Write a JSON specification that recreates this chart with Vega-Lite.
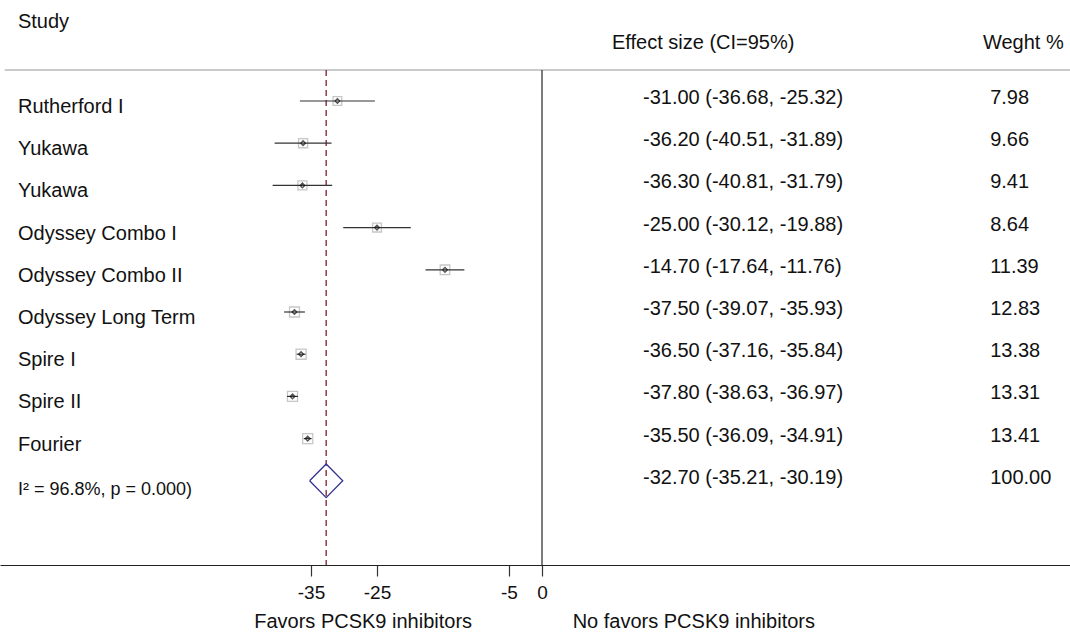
{
  "$schema": "https://vega.github.io/schema/vega-lite/v6.json",
  "width": 1070,
  "height": 565,
  "autosize": "none",
  "padding": {"left": 0, "right": 0, "top": 0, "bottom": 70},
  "background": "white",
  "config": {
    "view": {"stroke": null},
    "font": "Liberation Sans",
    "axis": {"labelFontSize": 19, "labelFont": "Liberation Sans", "labelColor": "#111111"},
    "text": {"font": "Liberation Sans", "color": "#111111"}
  },
  "datasets": {
    "studies": [
      {"study": "Rutherford I", "row": 1, "es": -31.0, "lo": -36.68, "hi": -25.32, "weight": 7.98, "ci": "-31.00 (-36.68, -25.32)", "w": "7.98"},
      {"study": "Yukawa", "row": 2, "es": -36.2, "lo": -40.51, "hi": -31.89, "weight": 9.66, "ci": "-36.20 (-40.51, -31.89)", "w": "9.66"},
      {"study": "Yukawa", "row": 3, "es": -36.3, "lo": -40.81, "hi": -31.79, "weight": 9.41, "ci": "-36.30 (-40.81, -31.79)", "w": "9.41"},
      {"study": "Odyssey Combo I", "row": 4, "es": -25.0, "lo": -30.12, "hi": -19.88, "weight": 8.64, "ci": "-25.00 (-30.12, -19.88)", "w": "8.64"},
      {"study": "Odyssey Combo II", "row": 5, "es": -14.7, "lo": -17.64, "hi": -11.76, "weight": 11.39, "ci": "-14.70 (-17.64, -11.76)", "w": "11.39"},
      {"study": "Odyssey Long Term", "row": 6, "es": -37.5, "lo": -39.07, "hi": -35.93, "weight": 12.83, "ci": "-37.50 (-39.07, -35.93)", "w": "12.83"},
      {"study": "Spire I", "row": 7, "es": -36.5, "lo": -37.16, "hi": -35.84, "weight": 13.38, "ci": "-36.50 (-37.16, -35.84)", "w": "13.38"},
      {"study": "Spire II", "row": 8, "es": -37.8, "lo": -38.63, "hi": -36.97, "weight": 13.31, "ci": "-37.80 (-38.63, -36.97)", "w": "13.31"},
      {"study": "Fourier", "row": 9, "es": -35.5, "lo": -36.09, "hi": -34.91, "weight": 13.41, "ci": "-35.50 (-36.09, -34.91)", "w": "13.41"}
    ],
    "overall": [
      {"study": "I² = 96.8%, p = 0.000)", "row": 10, "es": -32.7, "lo": -35.21, "hi": -30.19, "ci": "-32.70 (-35.21, -30.19)", "w": "100.00"}
    ],
    "diamond": [
      {"k": 0, "x": -35.21, "row": 10},
      {"k": 1, "x": -32.7, "row": 9.6},
      {"k": 2, "x": -30.19, "row": 10},
      {"k": 3, "x": -32.7, "row": 10.4},
      {"k": 4, "x": -35.21, "row": 10}
    ],
    "headers": [
      {"label": "Study", "x": -79.4, "row": -0.87},
      {"label": "Effect size (CI=95%)", "x": 10.6, "row": -0.37},
      {"label": "Weght %", "x": 66.8, "row": -0.37}
    ],
    "sides": [
      {"label": "Favors PCSK9 inhibitors", "x": -27.1, "row": 13.35},
      {"label": "No favors PCSK9 inhibitors", "x": 23.0, "row": 13.35}
    ]
  },
  "layer": [
    {
      "data": {"values": [{"x": -81.4, "x2": 80, "row": 0.265}]},
      "mark": {"type": "rule", "color": "#b8b8b8", "strokeWidth": 1.5},
      "encoding": {
        "x": {"field": "x", "type": "quantitative", "scale": {"domain": [-82.12, 80.0], "nice": false, "zero": false},
          "axis": {"values": [-35, -25, -5, 0], "title": null, "grid": false, "domainColor": "#222222", "domainWidth": 1.2,
            "tickColor": "#333333", "tickSize": 11, "tickWidth": 1.2, "labelFontSize": 19, "labelColor": "#111111",
            "labelPadding": 7, "labelDx": 5, "labelFont": "Liberation Sans",
            "labelExpr": "replace(datum.label, '\u2212', '-')"}},
        "x2": {"field": "x2"},
        "y": {"field": "row", "type": "quantitative", "scale": {"domain": [-1.393, 11.995], "reverse": true, "nice": false, "zero": false}, "axis": null}
      }
    },
    {
      "data": {"values": [{"x": 0, "row": 0.265, "row2": 11.995}]},
      "mark": {"type": "rule", "color": "#444444", "strokeWidth": 1.4},
      "encoding": {
        "x": {"field": "x", "type": "quantitative"},
        "y": {"field": "row", "type": "quantitative"},
        "y2": {"field": "row2"}
      }
    },
    {
      "data": {"values": [{"x": -32.7, "row": 0.265, "row2": 11.995}]},
      "mark": {"type": "rule", "color": "#7f1d2c", "strokeWidth": 1.3, "strokeDash": [6, 4]},
      "encoding": {
        "x": {"field": "x", "type": "quantitative"},
        "y": {"field": "row", "type": "quantitative"},
        "y2": {"field": "row2"}
      }
    },
    {
      "data": {"name": "studies"},
      "mark": {"type": "point", "shape": "square", "filled": false, "color": "#b0b0b0", "strokeWidth": 1.3},
      "encoding": {
        "x": {"field": "es", "type": "quantitative"},
        "y": {"field": "row", "type": "quantitative"},
        "size": {"field": "weight", "type": "quantitative", "scale": {"domain": [7, 14], "range": [70, 105]}, "legend": null}
      }
    },
    {
      "data": {"name": "studies"},
      "mark": {"type": "rule", "color": "#333333", "strokeWidth": 1.2},
      "encoding": {
        "x": {"field": "lo", "type": "quantitative"},
        "x2": {"field": "hi"},
        "y": {"field": "row", "type": "quantitative"}
      }
    },
    {
      "data": {"name": "studies"},
      "mark": {"type": "point", "shape": "diamond", "filled": false, "color": "#111111", "strokeWidth": 1.4, "size": 22},
      "encoding": {
        "x": {"field": "es", "type": "quantitative"},
        "y": {"field": "row", "type": "quantitative"}
      }
    },
    {
      "data": {"name": "diamond"},
      "mark": {"type": "line", "color": "#33338f", "strokeWidth": 1.3},
      "encoding": {
        "x": {"field": "x", "type": "quantitative"},
        "y": {"field": "row", "type": "quantitative"},
        "order": {"field": "k", "type": "quantitative"}
      }
    },
    {
      "data": {"name": "studies"},
      "mark": {"type": "text", "align": "left", "baseline": "middle", "fontSize": 20, "dy": 6},
      "encoding": {
        "x": {"datum": -79.4, "type": "quantitative"},
        "y": {"field": "row", "type": "quantitative"},
        "text": {"field": "study"}
      }
    },
    {
      "data": {"name": "overall"},
      "mark": {"type": "text", "align": "left", "baseline": "middle", "fontSize": 18, "dy": 9},
      "encoding": {
        "x": {"datum": -79.4, "type": "quantitative"},
        "y": {"field": "row", "type": "quantitative"},
        "text": {"field": "study"}
      }
    },
    {
      "layer": [
        {"data": {"name": "studies"}, "mark": {"type": "text", "align": "left", "baseline": "middle", "fontSize": 20, "dy": -3},
          "encoding": {"x": {"datum": 15.3, "type": "quantitative"}, "y": {"field": "row", "type": "quantitative"}, "text": {"field": "ci"}}},
        {"data": {"name": "overall"}, "mark": {"type": "text", "align": "left", "baseline": "middle", "fontSize": 20, "dy": -3},
          "encoding": {"x": {"datum": 15.3, "type": "quantitative"}, "y": {"field": "row", "type": "quantitative"}, "text": {"field": "ci"}}},
        {"data": {"name": "studies"}, "mark": {"type": "text", "align": "left", "baseline": "middle", "fontSize": 20, "dy": -3},
          "encoding": {"x": {"datum": 67.9, "type": "quantitative"}, "y": {"field": "row", "type": "quantitative"}, "text": {"field": "w"}}},
        {"data": {"name": "overall"}, "mark": {"type": "text", "align": "left", "baseline": "middle", "fontSize": 20, "dy": -3},
          "encoding": {"x": {"datum": 67.9, "type": "quantitative"}, "y": {"field": "row", "type": "quantitative"}, "text": {"field": "w"}}}
      ]
    },
    {
      "data": {"name": "headers"},
      "mark": {"type": "text", "align": "left", "baseline": "middle", "fontSize": 20},
      "encoding": {
        "x": {"field": "x", "type": "quantitative"},
        "y": {"field": "row", "type": "quantitative"},
        "text": {"field": "label"}
      }
    },
    {
      "data": {"name": "sides"},
      "mark": {"type": "text", "align": "center", "baseline": "middle", "fontSize": 20},
      "encoding": {
        "x": {"field": "x", "type": "quantitative"},
        "y": {"field": "row", "type": "quantitative"},
        "text": {"field": "label"}
      }
    }
  ]
}
